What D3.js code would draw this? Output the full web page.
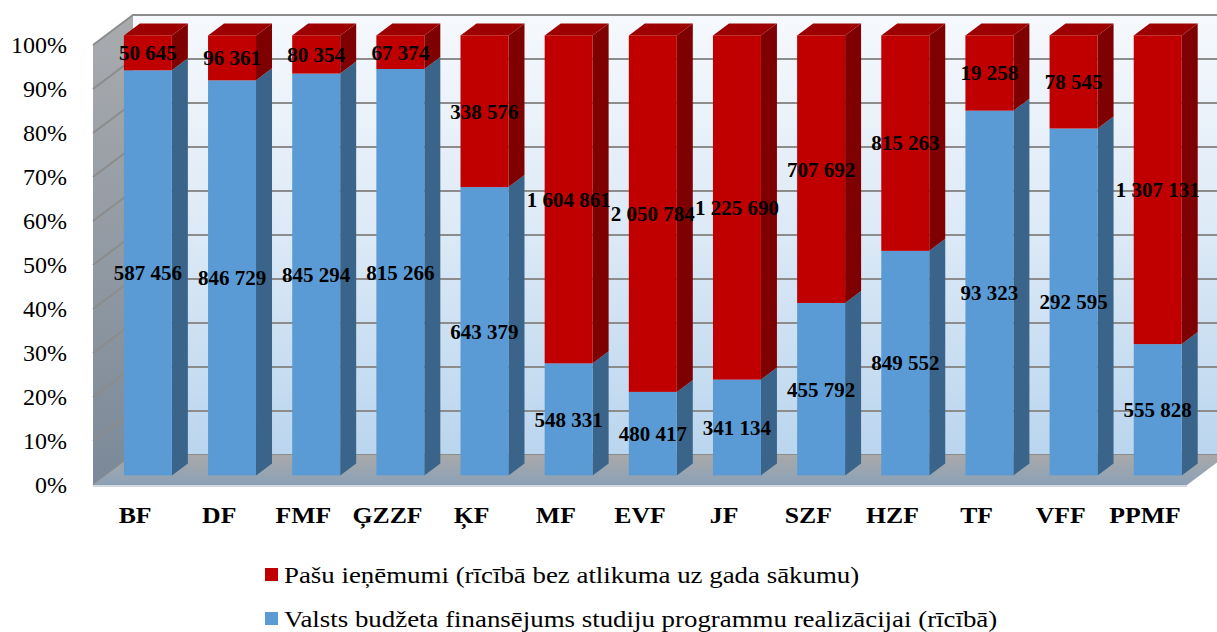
<!DOCTYPE html>
<html lang="lv">
<head>
<meta charset="UTF-8">
<title>Finansējums pa fakultātēm</title>
<script src="https://d3js.org/d3.v7.min.js"></script>
<style>
    body { margin: 0; background: white; }
    svg { display: block; }
    svg text { font-family: "Liberation Serif", "Times New Roman", Times, serif; }
</style>
</head>
<body>
<svg width="1217" height="632"></svg>
<script>
// chart data
const categories = ["BF", "DF", "FMF", "ĢZZF", "ĶF", "MF", "EVF", "JF", "SZF", "HZF", "TF", "VFF", "PPMF"];
const stateFunding = [587456, 846729, 845294, 815266, 643379, 548331, 480417, 341134, 455792, 849552, 93323, 292595, 555828];
const ownRevenue = [50645, 96361, 80354, 67374, 338576, 1604861, 2050784, 1225690, 707692, 815263, 19258, 78545, 1307131];
const seriesNames = ["Pašu ieņēmumi (rīcībā bez atlikuma uz gada sākumu)",
                     "Valsts budžeta finansējums studiju programmu realizācijai (rīcībā)"];
const tickValues = [0, 0.1, 0.2, 0.3, 0.4, 0.5, 0.6, 0.7, 0.8, 0.9, 1];

var SERIF = "'Liberation Serif', 'Times New Roman', Times, serif";
var svg = d3.select("svg");

// depth vector of the 3d box
var DX = 40, DY = -30;
var barFront = 0.32, barBack = 0.72;

var x = d3.scaleBand().domain(categories).range([93, 1187]).paddingInner(0.43).paddingOuter(0.215);
var y = d3.scaleLinear().domain([0, 1]).range([485, 45]);

var fmt = d3.formatLocale({ decimal: ",", thousands: " ", grouping: [3], currency: ["", ""] }).format(",d");

function pt(px, py, d) { return [px + d * DX, py + d * DY]; }
function poly(points) { return points.map(p => p.join(",")).join(" "); }

// gradients
var defs = svg.append("defs");
function grad(id, stops) {
    var g = defs.append("linearGradient").attr("id", id)
        .attr("x1", 0).attr("y1", 0).attr("x2", 0).attr("y2", 1);
    stops.forEach(s => g.append("stop").attr("offset", s[0]).attr("stop-color", s[1]));
}
grad("wallGrad", [[0, "#f6f9fd"], [0.5, "#dce9f6"], [1, "#bad5ee"]]);
grad("sideGrad", [[0, "#a9abae"], [1, "#7b8998"]]);
grad("floorGrad", [[0, "#a9a9a9"], [1, "#8ba1b8"]]);

var x0 = x.range()[0], x1 = x.range()[1];

// back wall
svg.append("polygon")
    .attr("points", poly([pt(x0, y(1), 1), pt(x1, y(1), 1), pt(x1, y(0), 1), pt(x0, y(0), 1)]))
    .attr("fill", "url(#wallGrad)");

// left wall
svg.append("polygon")
    .attr("points", poly([pt(x0, y(1), 0), pt(x0, y(1), 1), pt(x0, y(0), 1), pt(x0, y(0), 0)]))
    .attr("fill", "url(#sideGrad)");

// gridlines on side + back wall
svg.append("g")
    .selectAll("polyline")
    .data(tickValues)
    .enter()
    .append("polyline")
    .attr("points", d => poly([pt(x0, y(d), 0), pt(x0, y(d), 1), pt(x1, y(d), 1)]))
    .attr("fill", "none")
    .attr("stroke", "#8c8c8c")
    .attr("stroke-width", 2);

// floor
svg.append("polygon")
    .attr("points", poly([pt(x0, y(0), 0), pt(x1, y(0), 0), pt(x1, y(0), 1), pt(x0, y(0), 1)]))
    .attr("fill", "url(#floorGrad)");
svg.append("line")
    .attr("x1", x0).attr("x2", x1).attr("y1", y(0) + 1).attr("y2", y(0) + 1)
    .attr("stroke", "#d4d8dc").attr("stroke-width", 2);

// stacked shares
var rows = categories.map((c, i) => {
    var t = stateFunding[i] + ownRevenue[i];
    return { cat: c, blue: stateFunding[i], red: ownRevenue[i], b: stateFunding[i] / t };
});

var colors = {
    blue: { front: "#5b9bd5", side: "#3a6489", top: "#4a7fb0" },
    red: { front: "#c00000", side: "#7e0000", top: "#9c0000" }
};

var bars = svg.append("g").attr("class", "bars");
rows.forEach(r => {
    var left = x(r.cat), right = x(r.cat) + x.bandwidth();
    var segs = [{ k: "blue", v0: 0, v1: r.b }, { k: "red", v0: r.b, v1: 1 }];
    segs.forEach((s, si) => {
        var c = colors[s.k];
        // right side face
        bars.append("polygon")
            .attr("points", poly([pt(right, y(s.v1), barFront), pt(right, y(s.v1), barBack),
                                  pt(right, y(s.v0), barBack), pt(right, y(s.v0), barFront)]))
            .attr("fill", c.side);
        // top face (only the top segment shows)
        if (si == segs.length - 1) {
            bars.append("polygon")
                .attr("points", poly([pt(left, y(s.v1), barFront), pt(left, y(s.v1), barBack),
                                      pt(right, y(s.v1), barBack), pt(right, y(s.v1), barFront)]))
                .attr("fill", c.top);
        }
        // front face
        var a = pt(left, y(s.v1), barFront), b = pt(right, y(s.v0), barFront);
        bars.append("rect")
            .attr("x", a[0]).attr("y", a[1])
            .attr("width", b[0] - a[0]).attr("height", b[1] - a[1])
            .attr("fill", c.front);
    });
});

// data labels
var labels = svg.append("g")
    .attr("font-family", SERIF)
    .attr("font-weight", "bold")
    .attr("font-size", "21px")
    .attr("text-anchor", "middle");
rows.forEach(r => {
    var cx = x(r.cat) + x.bandwidth() / 2;
    [[r.blue, 0, r.b], [r.red, r.b, 1]].forEach(s => {
        var p = pt(cx, y((s[1] + s[2]) / 2), barFront);
        labels.append("text")
            .attr("x", p[0]).attr("y", p[1])
            .attr("dy", "0.35em")
            .attr("font-family", SERIF)
            .attr("fill", "black")
            .text(fmt(s[0]));
    });
});

// y axis
var yAxis = svg.append("g")
    .attr("transform", "translate(" + x0 + ",0)")
    .call(d3.axisLeft(y).tickValues(tickValues).tickFormat(d3.format(".0%")).tickSize(0).tickPadding(26));
yAxis.attr("font-family", SERIF);
yAxis.select(".domain").remove();
yAxis.selectAll("text")
    .attr("font-family", SERIF)
    .attr("font-size", "24px")
    .attr("fill", "black");

// category labels (the original text is a little stretched sideways)
svg.append("g")
    .selectAll("text")
    .data(categories)
    .enter()
    .append("text")
    .attr("transform", d => "translate(" + (x(d) + x.bandwidth() / 2) + ",523) scale(1.12,1)")
    .attr("text-anchor", "middle")
    .attr("font-family", SERIF)
    .attr("font-weight", "bold")
    .attr("font-size", "23px")
    .text(d => d);

// legend
var legend = svg.append("g");
var legendColors = [colors.red.front, colors.blue.front];
seriesNames.forEach((name, i) => {
    legend.append("rect")
        .attr("x", 265).attr("y", 568 + i * 44)
        .attr("width", 13).attr("height", 13)
        .attr("fill", legendColors[i]);
    legend.append("text")
        .attr("transform", "translate(284," + (583 + i * 44) + ") scale(1.12,1)")
        .attr("font-family", SERIF)
        .attr("font-size", "24px")
        .text(name);
});
</script>
</body>
</html>
